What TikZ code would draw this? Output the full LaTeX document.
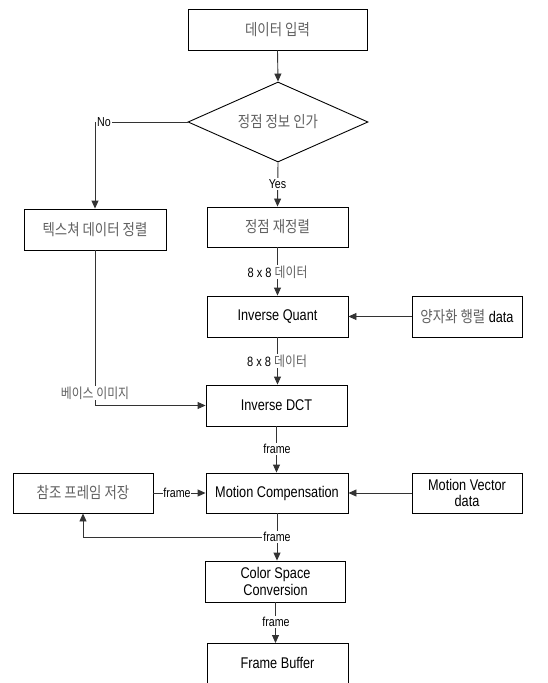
\documentclass[tikz,border=0pt]{standalone}
\usepackage{fontspec}
\setmainfont[FakeStretch=0.82]{Liberation Sans}
\newfontfamily\krfont[FakeStretch=0.85]{Noto Sans CJK KR}
\usetikzlibrary{arrows.meta,shapes.geometric}
\newcommand{\kr}[1]{{\krfont\color{black!62}#1}}
\newcommand{\krs}[1]{{\fontsize{14}{15}\selectfont\krfont\color{black!62}#1}}
\begin{document}
\begin{tikzpicture}[x=1pt,y=-1pt,
  box/.style={draw=black,line width=0.9pt,fill=white,inner sep=0pt,align=center,
    font=\fontsize{15.5}{16.5}\selectfont},
  krbox/.style={box,font=\fontsize{15.8}{17}\selectfont},
  lbl/.style={fill=white,inner sep=1pt,font=\fontsize{13}{14}\selectfont},
  krlbl/.style={fill=white,inner sep=1pt,font=\fontsize{13.5}{14}\selectfont},
  conn/.style={draw=black!80,line width=0.9pt},
  arr/.style={conn,-{Triangle[length=8pt,width=7pt]}}]
\useasboundingbox (0,0) rectangle (547,683);
\fill[white] (0,0) rectangle (547,683);
% nodes
\node[krbox,minimum width=179pt,minimum height=41pt] (in) at (277.5,29.5) {\kr{데이터 입력}};
\node[draw=black,line width=0.9pt,diamond,aspect=2.25,inner sep=0pt,minimum width=180pt,minimum height=80pt,
  font=\fontsize{15.8}{17}\selectfont] (dia) at (278,122) {\kr{정점 정보 인가}};
\node[krbox,minimum width=142pt,minimum height=41pt] (tex) at (95,229.5) {\kr{텍스쳐 데이터 정렬}};
\node[krbox,minimum width=141pt,minimum height=40pt] (vre) at (277.5,227) {\kr{정점 재정렬}};
\node[box,minimum width=141pt,minimum height=41pt] (iq) at (277.5,316.5) {Inverse Quant};
\node[krbox,minimum width=110pt,minimum height=41pt] (qm) at (467,316.5) {\kr{양자화 행렬} {\fontsize{15.5}{16.5}\selectfont data}};
\node[box,minimum width=141pt,minimum height=41pt] (idct) at (276.5,405.5) {Inverse DCT};
\node[krbox,minimum width=140pt,minimum height=40pt] (ref) at (83,493) {\kr{참조 프레임 저장}};
\node[box,minimum width=142pt,minimum height=40pt] (mc) at (277,493) {Motion Compensation};
\node[box,minimum width=110pt,minimum height=40pt] (mv) at (467,493) {Motion Vector\\data};
\node[box,minimum width=140pt,minimum height=41pt] (csc) at (275.5,581.5) {Color Space\\Conversion};
\node[box,minimum width=141pt,minimum height=60pt,anchor=north] (fb) at (277.5,643) {};
\node[font=\fontsize{15.5}{16.5}\selectfont] (fbt) at (277.5,663) {Frame Buffer};
% connectors
\draw[arr] (in.south) -- (dia.north);
\coordinate (nocorner) at (95,122);
\draw[arr] (dia.west) -- (nocorner) -- (tex.north);
\node[lbl,anchor=west] (no) at (96,122) {No};
\draw[arr] (dia.south) -- (vre.north);
\node[lbl] (yes) at (277.5,184) {Yes};
\draw[arr] (vre.south) -- (iq.north);
\node[krlbl] (l1) at (277.5,272) {8 x 8 \krs{데이터}};
\draw[arr] (qm.west) -- (iq.east);
\draw[arr] (iq.south) -- (iq.south |- idct.north);
\node[krlbl] (l2) at (277,361) {8 x 8 \krs{데이터}};
\draw[arr] (tex.south) |- (idct.west);
\node[krlbl] (base) at (95,393) {\krs{베이스 이미지}};
\draw[arr] (idct.south) -- (idct.south |- mc.north);
\node[lbl] (f1) at (277,449) {frame};
\draw[arr] (ref.east) -- (mc.west);
\node[lbl,inner sep=0.5pt] (f2) at (177,493) {frame};
\draw[arr] (mv.west) -- (mc.east);
\draw[arr] (mc.south) -- (mc.south |- csc.north);
\coordinate (fbk) at (277,537);
\draw[arr] (fbk) -| (ref.south);
\node[lbl] (f3) at (277,537) {frame};
\draw[arr] (csc.south) -- (csc.south |- fb.north);
\node[lbl] (f4) at (276,622) {frame};
\end{tikzpicture}
\end{document}
